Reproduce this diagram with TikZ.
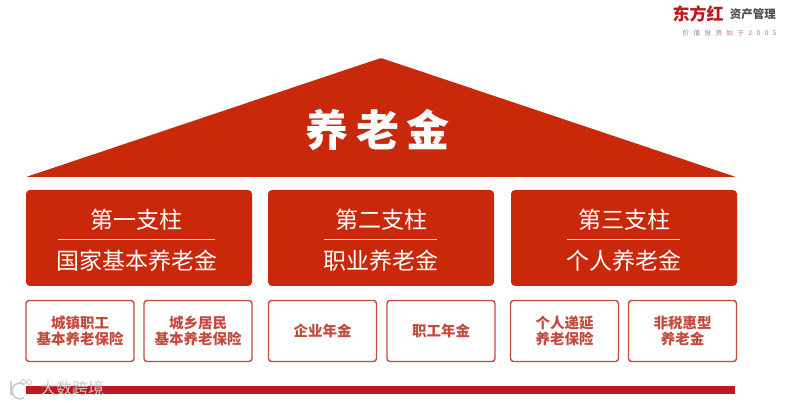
\documentclass[tikz,border=0pt]{standalone}
\usepackage{xcolor}
\usepackage{fontspec}
\setmainfont{Noto Sans CJK SC}
\usetikzlibrary{positioning, calc}
\definecolor{roofred}{RGB}{201, 41, 10}
\definecolor{edgered}{RGB}{196, 74, 62}
\definecolor{barred}{RGB}{190, 24, 32}
\definecolor{logogrey}{RGB}{80, 80, 80}
\newcommand{\pxfont}[1]{\fontsize{#1}{#1}\selectfont}

\begin{document}
\begin{tikzpicture}[
    x=1pt, y=-1pt,
    pillar/.style={rectangle, rounded corners=4pt, fill=roofred, minimum width=226pt, minimum height=96pt, inner sep=0pt},
    leaf/.style={rectangle, rounded corners=3pt, draw=edgered, line width=1.4pt, fill=white, minimum width=108pt, minimum height=61pt, inner sep=0pt, align=center, text=edgered, font=\pxfont{14.5}\bfseries},
    pillartext/.style={text=white, inner sep=0pt, font=\pxfont{23}},
    rule/.style={draw=white!85!roofred, line width=0.9pt},
    markcol/.style={white!80!black}
]
\useasboundingbox (0,0) rectangle (795,403);
\fill[white] (0,0) rectangle (795,403);

% Roof
\coordinate (roofL) at (26,177);
\coordinate (roofT) at (381,58);
\coordinate (roofR) at (736,177);
\fill[roofred, rounded corners=1.5pt] (roofL) -- (roofT) -- (roofR) -- cycle;
\node[text=white, inner sep=0pt, font=\pxfont{43}\bfseries] (rooftext) at (377.5,130) {养\hspace{8pt}老\hspace{8pt}金};

% Pillars
\foreach \i/\xc/\xt/\head/\body/\halfw in {1/139/136.5/第一支柱/国家基本养老金/79, 2/381/381/第二支柱/职业养老金/57, 3/624/624/第三支柱/个人养老金/57} {
    \node[pillar] (pillar\i) at (\xc,238) {};
    \node[pillartext] (head\i) at (\xt,220) {\head};
    \node[pillartext] (body\i) at (\xt,261) {\body};
    \coordinate (ruleL\i) at (\xt-\halfw,239);
    \coordinate (ruleR\i) at (\xt+\halfw-1,239);
    \draw[rule] (ruleL\i) -- (ruleR\i);
}

% Small boxes
\node[leaf] (leaf1) at (80,331) {城镇职工\\[2pt]基本养老保险};
\node[leaf] (leaf2) at (198,331) {城乡居民\\[2pt]基本养老保险};
\node[leaf] (leaf3) at (322.5,331) {企业年金};
\node[leaf] (leaf4) at (441,331) {职工年金};
\node[leaf] (leaf5) at (564.5,331) {个人递延\\[2pt]养老保险};
\node[leaf] (leaf6) at (682.5,331) {非税惠型\\[2pt]养老金};

% Bottom bar
\fill[barred] (26,385.5) rectangle (735,394);

% Logo
\node[text=barred, inner sep=0pt, font=\pxfont{17}\bfseries] (logored) at (698,14) {东方红};
\node[text=logogrey, inner sep=0pt, right=6pt of logored, font=\pxfont{11.5}\bfseries] (logoname) {资产管理};
\node[text=logogrey!70, inner sep=0pt, font=\pxfont{6.5}] (slogan) at (729.5,33) {价\hspace{4.5pt}值\hspace{4.5pt}投\hspace{4.5pt}资\hspace{4.5pt}\textcolor{barred!60}{始\hspace{4.5pt}于}\hspace{4.5pt}2\hspace{4.5pt}0\hspace{4.5pt}0\hspace{4.5pt}5};

% Watermark
\node[text=white!80!black, inner sep=0pt, font=\pxfont{16}] (mark) at (72,388) {大数跨境};
\draw[markcol, line width=1.6pt] (11,381) -- (11,395);
\draw[markcol, line width=1.6pt] (24,384) arc (60:300:8pt);
\draw[markcol, line width=0.8pt] (23,382) circle (2.5pt) (29,382) circle (2.5pt);
\end{tikzpicture}
\end{document}
